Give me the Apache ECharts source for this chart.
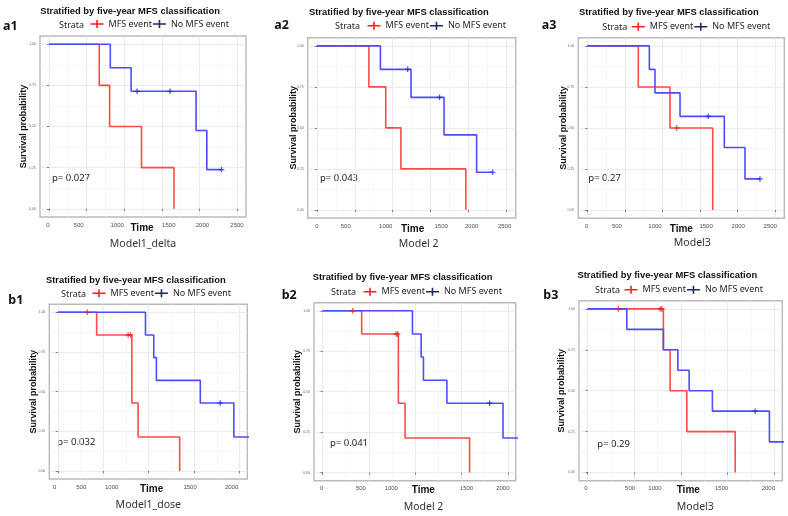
<!DOCTYPE html>
<html>
<head>
<meta charset="utf-8">
<script src="https://cdn.jsdelivr.net/npm/echarts@6/dist/echarts.min.js"></script>
<style>
  html, body { margin: 0; padding: 0; background: #fff; }
  #chart { width: 788px; height: 516px; }
</style>
</head>
<body>
<div id="chart"></div>
<script>
// panel texts
const panelIds = ['a1', 'a2', 'a3', 'b1', 'b2', 'b3'];
const modelNames = ['Model1_delta', 'Model 2', 'Model3', 'Model1_dose', 'Model 2', 'Model3'];
const pValues = ['p= 0.027', 'p= 0.043', 'p= 0.27', 'p= 0.032', 'p= 0.041', 'p= 0.29'];
const plotTitle = 'Stratified by five-year MFS classification';
const strataNames = ['MFS event', 'No MFS event'];

// axis ticks
const xTicksA = [0, 500, 1000, 1500, 2000, 2500];
const xTicksB = [0, 500, 1000, 1500, 2000];
const yTicks = [0, 0.25, 0.5, 0.75, 1];
const xRangeA = [-120, 2620];
const xRangeB = [-93, 2085];
const yRange = [-0.05, 1.05];

// KM curves, [time, survival]
const a1Event = [[0, 1], [668, 0.75], [806, 0.5], [1230, 0.25], [1662, 0]];
const a1EventCens = [];
const a1NoEvent = [[0, 1], [815, 0.857], [1092, 0.714], [1956, 0.476], [2099, 0.238], [2295, 0.238]];
const a1NoEventCens = [[1172, 0.714], [1609, 0.714], [2295, 0.238]];

const a2Event = [[0, 1], [686, 0.75], [908, 0.5], [1108, 0.25], [1963, 0]];
const a2EventCens = [];
const a2NoEvent = [[0, 1], [838, 0.857], [1241, 0.686], [1676, 0.457], [2105, 0.229], [2318, 0.229]];
const a2NoEventCens = [[1197, 0.857], [1617, 0.686], [2318, 0.229]];

const a3Event = [[0, 1], [678, 0.75], [1100, 0.5], [1668, 0]];
const a3EventCens = [[1189, 0.5]];
const a3NoEvent = [[0, 1], [825, 0.857], [900, 0.714], [1233, 0.571], [1822, 0.381], [2097, 0.19], [2297, 0.19]];
const a3NoEventCens = [[1609, 0.571], [2297, 0.19]];

const b1Event = [[0, 1], [428, 0.857], [815, 0.429], [884, 0.214], [1341, 0]];
const b1EventCens = [[325, 1], [774, 0.857], [800, 0.857]];
const b1NoEvent = [[0, 1], [965, 0.857], [1056, 0.714], [1085, 0.571], [1568, 0.429], [1937, 0.214], [2290, 0.214]];
const b1NoEventCens = [[1787, 0.429]];

const b2Event = [[0, 1], [422, 0.857], [818, 0.429], [891, 0.214], [1587, 0]];
const b2EventCens = [[325, 1], [793, 0.857], [810, 0.857]];
const b2NoEvent = [[0, 1], [970, 0.857], [1064, 0.714], [1089, 0.571], [1342, 0.429], [1948, 0.214], [2290, 0.214]];
const b2NoEventCens = [[1803, 0.429]];

const b3Event = [[0, 1], [811, 0.75], [883, 0.5], [1062, 0.25], [1580, 0]];
const b3EventCens = [[329, 1], [776, 1], [794, 1]];
const b3NoEvent = [[0, 1], [419, 0.875], [811, 0.75], [966, 0.625], [1087, 0.5], [1336, 0.375], [1947, 0.1875], [2290, 0.1875]];
const b3NoEventCens = [[1794, 0.375]];

const panelData = [
  [a1Event, a1EventCens, a1NoEvent, a1NoEventCens, xTicksA, xRangeA],
  [a2Event, a2EventCens, a2NoEvent, a2NoEventCens, xTicksA, xRangeA],
  [a3Event, a3EventCens, a3NoEvent, a3NoEventCens, xTicksA, xRangeA],
  [b1Event, b1EventCens, b1NoEvent, b1NoEventCens, xTicksB, xRangeB],
  [b2Event, b2EventCens, b2NoEvent, b2NoEventCens, xTicksB, xRangeB],
  [b3Event, b3EventCens, b3NoEvent, b3NoEventCens, xTicksB, xRangeB]
];

// layout of each panel (pixels)
const layout = [
  { box: [40, 36, 246, 217], title: [130, 11], tag: [3, 26], strata: [59, 25], legendX: 90.5, model: [143, 244], p: [52, 178], yNameX: 23, timeY: 229, timeShift: -1, labelShift: [-1, -8, -7, 7, 3, 0] },
  { box: [307.7, 37.7, 515.7, 218], title: [398.8, 12.7], tag: [274.3, 25], strata: [335, 26.7], legendX: 367.5, model: [418.7, 244], p: [320, 178.7], yNameX: 293.3, timeY: 230, timeShift: 1, labelShift: [0, -9, -7, 10.5, 3, -2] },
  { box: [578.3, 37.7, 784.3, 218.3], title: [668.8, 12.7], tag: [541.7, 25], strata: [602.3, 27.7], legendX: 631.8, model: [692.3, 243.3], p: [588.3, 178.3], yNameX: 562.7, timeY: 230, timeShift: 0, labelShift: [-0.6, -8, -7.5, 6, 0.6, -5] },
  { box: [49.3, 304.3, 247.3, 479], title: [135.8, 280.7], tag: [8.3, 300.7], strata: [61, 294.3], legendX: 92.5, model: [148.3, 505], p: [57.3, 442.7], yNameX: 32.7, timeY: 490, timeShift: 3.4, labelShift: [-3, -22, -37, -4, -8] },
  { box: [314, 302.7, 515.7, 480.7], title: [402.5, 277.3], tag: [281.7, 295], strata: [331, 292.7], legendX: 363.5, model: [423.5, 506.7], p: [330, 443.3], yNameX: 296.7, timeY: 491.7, timeShift: 8.5, labelShift: [-1, -8, -24, 5, -5] },
  { box: [579, 300.7, 782.3, 480.7], title: [667.3, 275.7], tag: [543.3, 295], strata: [595, 290.7], legendX: 624.5, model: [695.3, 507.3], p: [597.3, 444], yNameX: 561, timeY: 491.7, timeShift: 7.6, labelShift: [-1.7, -4.3, -26, -6, -6] }
];

const RED = '#ff4a4a';
const BLUE = '#4d4dff';
const PLUS = 'path://M0,3.9H10V6.1H0Z M3.9,0H6.1V10H3.9Z';
const LEG_ICON = 'path://M0,3.3H13V4.7H0Z M5.7,0H7.3V8H5.7Z';
const ARIAL = '"Liberation Sans", Arial, sans-serif';
const NOTO = '"Noto Sans", sans-serif';

const minorOf = (ticks) => ticks.slice(0, -1).map((t, i) => (t + ticks[i + 1]) / 2);

const chart = echarts.init(document.getElementById('chart'));

const grids = [], xAxes = [], yAxes = [], series = [], legends = [], graphics = [];

const text = (x, y, str, opts) => ({
  type: 'text', x, y, silent: true,
  style: Object.assign({
    text: str, fill: '#1a1a1a',
    align: opts.align || 'left', verticalAlign: 'middle',
    textAlign: opts.align || 'left', textVerticalAlign: 'middle'
  }, opts.style)
});

panelData.forEach(([ev, evCens, noEv, noEvCens, xTicks, xRange], i) => {
  const L = layout[i];
  const [x0, y0, x1, y1] = L.box;

  grids.push({
    left: x0, top: y0, width: x1 - x0, height: y1 - y0,
    show: true, borderColor: '#bababa', borderWidth: 1.4, backgroundColor: '#fff',
    containLabel: false, outerBoundsMode: 'none'
  });

  const rich = {};
  L.labelShift.forEach((s, k) => {
    rich['s' + k] = { padding: s < 0 ? [0, -2 * s, 0, 0] : [0, 0, 0, 2 * s] };
  });

  xAxes.push({
    gridIndex: i, type: 'value', min: xRange[0], max: xRange[1],
    axisLine: { show: false },
    axisTick: { customValues: xTicks, length: 2, lineStyle: { color: '#555', width: 0.8 } },
    axisLabel: {
      customValues: xTicks, fontSize: 6, color: '#4d4d4d', margin: 5, fontFamily: ARIAL,
      formatter: (v) => '{s' + xTicks.indexOf(v) + '|' + v + '}',
      rich
    },
    splitLine: { show: true, lineStyle: { color: '#e6e6e6', width: 0.8 } },
    name: 'Time', nameLocation: 'middle', nameGap: L.timeY - 6 - y1, nameMoveOverlap: false,
    nameTextStyle: {
      fontFamily: ARIAL, fontWeight: 'bold', fontSize: 10, color: '#111',
      padding: L.timeShift >= 0 ? [0, 0, 0, 2 * L.timeShift] : [0, -2 * L.timeShift, 0, 0]
    }
  });
  xAxes.push({
    gridIndex: i, type: 'value', min: xRange[0], max: xRange[1],
    axisLine: { show: false }, axisLabel: { show: false },
    axisTick: { show: false, customValues: minorOf(xTicks) },
    splitLine: { show: true, lineStyle: { color: '#f2f2f2', width: 0.6 } }
  });

  yAxes.push({
    gridIndex: i, type: 'value', min: yRange[0], max: yRange[1],
    axisLine: { show: false },
    axisTick: { customValues: yTicks, length: 2, lineStyle: { color: '#555', width: 0.8 } },
    axisLabel: {
      customValues: yTicks, fontSize: 3.5, color: '#666', margin: 4, fontFamily: ARIAL,
      formatter: (v) => v.toFixed(2)
    },
    splitLine: { show: true, lineStyle: { color: '#e6e6e6', width: 0.8 } },
    name: 'Survival probability', nameLocation: 'middle', nameGap: x0 - L.yNameX - 5, nameMoveOverlap: false,
    nameTextStyle: { fontFamily: ARIAL, fontWeight: 'bold', fontSize: 9, color: '#111' }
  });
  yAxes.push({
    gridIndex: i, type: 'value', min: yRange[0], max: yRange[1],
    axisLine: { show: false }, axisLabel: { show: false },
    axisTick: { show: false, customValues: minorOf(yTicks) },
    splitLine: { show: true, lineStyle: { color: '#f2f2f2', width: 0.6 } }
  });

  const xi = 2 * i, yi = 2 * i;
  series.push(
    { type: 'line', name: strataNames[0], xAxisIndex: xi, yAxisIndex: yi, data: ev, step: 'end',
      symbol: 'none', lineStyle: { color: RED, width: 1.6 }, itemStyle: { color: RED }, silent: true, z: 2 },
    { type: 'line', name: strataNames[1], xAxisIndex: xi, yAxisIndex: yi, data: noEv, step: 'end',
      symbol: 'none', lineStyle: { color: BLUE, width: 1.6 }, itemStyle: { color: BLUE }, silent: true, z: 3 },
    { type: 'scatter', name: 'censor', xAxisIndex: xi, yAxisIndex: yi, data: evCens,
      symbol: PLUS, symbolSize: 5.5, itemStyle: { color: '#f01c1c' }, silent: true, z: 5 },
    { type: 'scatter', name: 'censor', xAxisIndex: xi, yAxisIndex: yi, data: noEvCens,
      symbol: PLUS, symbolSize: 5.5, itemStyle: { color: '#2323e0' }, silent: true, z: 5 }
  );

  legends.push({
    left: L.legendX, top: L.strata[1] - 5.5, padding: 0, itemGap: 1,
    itemWidth: 13, itemHeight: 8, selectedMode: false,
    textStyle: { fontFamily: NOTO, fontSize: 9, color: '#262626' },
    data: [
      { name: strataNames[0], icon: LEG_ICON, itemStyle: { color: '#ff1f1f' } },
      { name: strataNames[1], icon: LEG_ICON, itemStyle: { color: '#1d2d62' } }
    ]
  });

  graphics.push(
    text(L.title[0], L.title[1], plotTitle, { align: 'center', style: { fontFamily: ARIAL, fontWeight: 'bold', fontSize: 9.4, fill: '#111' } }),
    text(L.tag[0], L.tag[1], panelIds[i], { style: { fontFamily: NOTO, fontWeight: 'bold', fontSize: 12.5, fill: '#111' } }),
    text(L.strata[0], L.strata[1], 'Strata', { style: { fontFamily: NOTO, fontSize: 9, fill: '#262626' } }),
    text(L.model[0], L.model[1], modelNames[i], { align: 'center', style: { fontFamily: NOTO, fontSize: 10.5, fill: '#333' } }),
    text(L.p[0], L.p[1], pValues[i], { style: { fontFamily: NOTO, fontSize: 9.5, fill: '#222' } })
  );
});

chart.setOption({
  animation: false,
  backgroundColor: '#fff',
  grid: grids,
  xAxis: xAxes,
  yAxis: yAxes,
  legend: legends,
  series,
  graphic: { elements: graphics }
});
</script>
</body>
</html>
